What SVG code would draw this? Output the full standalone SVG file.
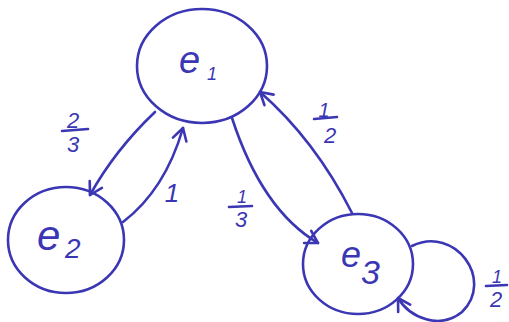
<svg xmlns="http://www.w3.org/2000/svg" width="509" height="322" viewBox="0 0 509 322">
<style>
.ink{fill:none;stroke:#3b36b4;stroke-width:2.6;stroke-linecap:round;stroke-linejoin:round}
.t{fill:#3b36b4;font-family:"Liberation Sans",sans-serif;font-style:italic}
</style>
<defs>
<marker id="arr" markerUnits="userSpaceOnUse" markerWidth="30" markerHeight="30" refX="0" refY="0" viewBox="-15 -15 30 30" orient="auto">
<path d="M-12,-7 L0,0 L-12,7" fill="none" stroke="#3b36b4" stroke-width="2.6" stroke-linecap="round" stroke-linejoin="round"/>
</marker>
</defs>
<rect width="509" height="322" fill="#fff"/>
<g id="connectors">
<path class="ink" d="M155,112 Q115,150 90,195" marker-end="url(#arr)"/>
<path class="ink" d="M123,222 Q165,190 183,128" marker-end="url(#arr)"/>
<path class="ink" d="M232,118 Q262,210 318,243" marker-end="url(#arr)"/>
<path class="ink" d="M352,213 Q315,140 260,92" marker-end="url(#arr)"/>
<path class="ink" d="M412,246 C455,225 495,280 462,312 C440,330 410,318 398,298" marker-end="url(#arr)"/>
<g id="lbl-e1e2"><text class="t" x="73" y="128" font-size="22" text-anchor="middle">2</text><path class="ink" d="M62,131 L88,129"/><text class="t" x="73" y="152" font-size="22" text-anchor="middle">3</text></g>
<g id="lbl-e2e1"><text class="t" x="172" y="202" font-size="26" text-anchor="middle">1</text></g>
<g id="lbl-e1e3"><text class="t" x="242" y="203" font-size="18" text-anchor="middle">1</text><path class="ink" d="M229,207 L252,206"/><text class="t" x="241" y="227" font-size="22" text-anchor="middle">3</text></g>
<g id="lbl-e3e1"><text class="t" x="324" y="117" font-size="20" text-anchor="middle">1</text><path class="ink" d="M314,119 L337,117"/><text class="t" x="330" y="143" font-size="22" text-anchor="middle">2</text></g>
<g id="lbl-e3e3"><text class="t" x="497" y="283" font-size="18" text-anchor="middle">1</text><path class="ink" d="M486,286 L507,285"/><text class="t" x="496" y="307" font-size="22" text-anchor="middle">2</text></g>
</g>
<g id="e1">
<ellipse class="ink" cx="202" cy="66" rx="65" ry="57"/>
<text class="t" x="179" y="73" font-size="38">e</text><text class="t" x="207" y="80" font-size="18">1</text>
</g>
<g id="e2">
<ellipse class="ink" cx="66" cy="240" rx="58" ry="53"/>
<text class="t" x="37" y="250" font-size="42">e</text><text class="t" x="65" y="258" font-size="28">2</text>
</g>
<g id="e3">
<ellipse class="ink" cx="358" cy="264" rx="55" ry="50"/>
<text class="t" x="341" y="267" font-size="36">e</text><text class="t" x="361" y="284" font-size="34">3</text>
</g>
</svg>
